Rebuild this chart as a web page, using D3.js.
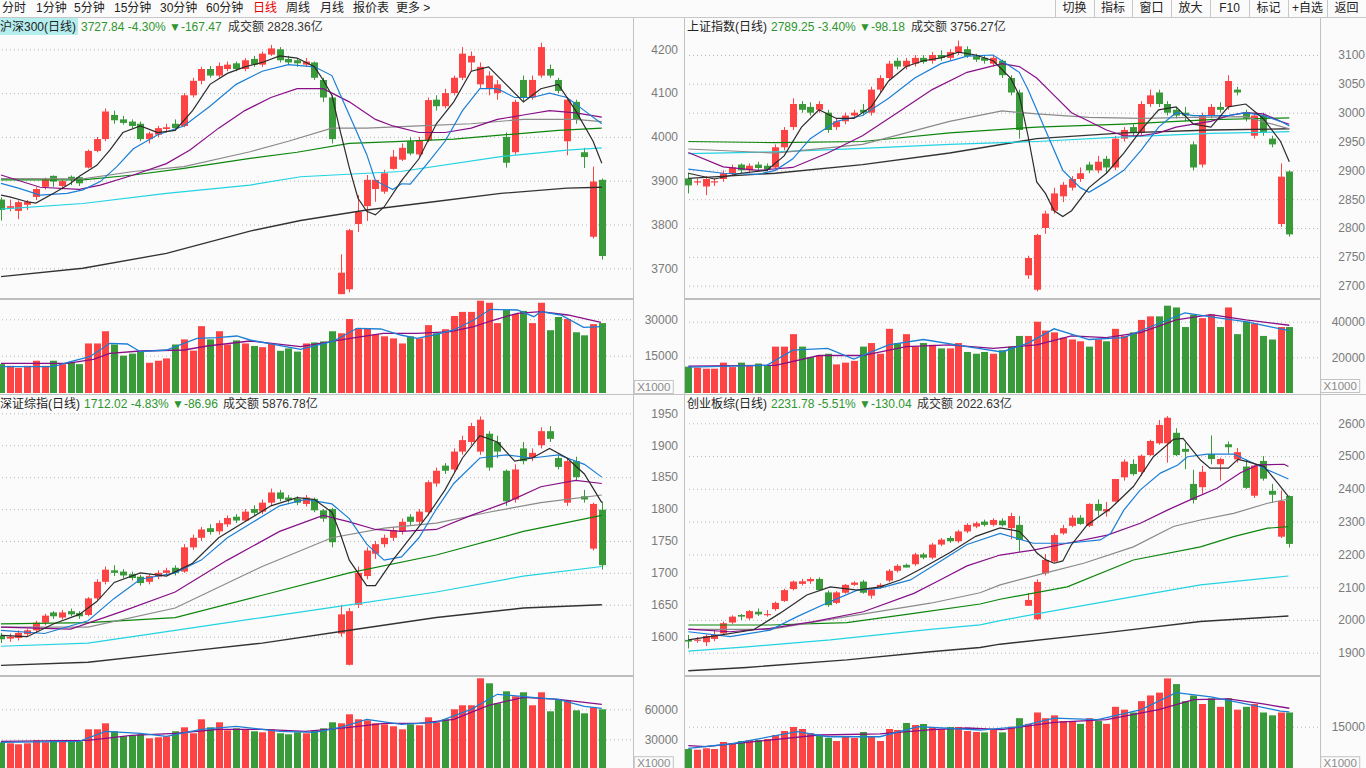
<!DOCTYPE html>
<html><head><meta charset="utf-8">
<script src="https://cdn.jsdelivr.net/npm/d3@7"></script>
<style>
html,body{margin:0;padding:0;background:#fbfbfb;overflow:hidden}
svg{display:block}
</style></head>
<body>
<svg id="c" width="1366" height="768"></svg>
<script>
// ---------------- DATA ----------------
const toolbarTabs = ["分时","1分钟","5分钟","15分钟","30分钟","60分钟","日线","周线","月线","报价表","更多 >"];
const toolbarButtons = ["切换","指标","窗口","放大","F10","标记","+自选","返回"];

// 沪深300
const hs300Open  = [3857,3838,3831,3845,3863,3886,3911,3888,3909,3908,3930,3968,3995,4050,4040,4035,4030,3995,4005,4018,4030,4025,4095,4128,4155,4140,4155,4168,4155,4178,4165,4188,4200,4178,4175,4165,4170,4130,4090,3641,3652,3801,3842,3881,3875,3927,3948,3990,3960,3992,4085,4070,4100,4135,4170,4120,4110,4100,4000,3965,4130,4090,4140,4155,4130,3990,4080,3965,3772,3902];
const hs300High  = [3862,3857,3855,3856,3885,3907,3912,3902,3912,3910,3971,4000,4065,4060,4048,4040,4035,4012,4025,4030,4040,4100,4135,4160,4162,4170,4172,4172,4180,4185,4195,4210,4205,4185,4180,4180,4172,4135,4095,3732,3790,3867,3913,3902,3925,3970,3985,4000,4000,4090,4095,4110,4140,4205,4195,4170,4150,4130,4010,4085,4140,4140,4215,4165,4135,4090,4085,3975,3932,3905];
const hs300Low   = [3809,3830,3812,3833,3856,3880,3886,3880,3890,3888,3928,3965,3990,4030,4028,4020,3990,3985,4000,4010,4015,4022,4090,4120,4135,4135,4150,4150,4150,4160,4160,4185,4170,4165,4160,4160,4130,4080,3985,3641,3645,3783,3808,3852,3870,3925,3945,3958,3955,3988,4060,4065,4095,4130,4150,4110,4095,4085,3930,3960,4080,4085,4135,4135,4100,3958,4030,3929,3768,3720];
const hs300Close = [3833,3842,3851,3852,3881,3903,3898,3899,3903,3894,3968,3995,4058,4038,4032,4025,3995,4008,4020,4022,4020,4095,4128,4155,4140,4162,4165,4155,4175,4165,4190,4202,4175,4170,4168,4172,4135,4090,3995,3690,3787,3829,3902,3902,3917,3955,3975,3962,3992,4084,4070,4100,4135,4190,4185,4160,4140,4120,3941,4080,4090,4130,4205,4140,4105,4085,4040,3954,3898,3728];
const hs300Vol   = [11500,10800,9960,10800,12900,10800,12900,11500,12480,11500,20030,20030,25070,19610,14990,15830,16670,12060,12900,13860,19610,21710,17090,27170,21710,25070,19610,21290,20030,19000,18500,20000,17000,18000,16680,20030,20450,20870,25070,24230,30110,26330,26040,23810,22970,22130,20030,22970,22130,27590,24230,25910,31370,33050,33050,37670,36830,28430,33890,32210,33470,28430,36830,25490,30950,30110,24650,23390,28010,28430];
const hs300MA5   = [[0,3867],[1,3863],[3,3852],[4,3849],[6,3871],[8,3894],[9,3910],[11,3935],[12.5,3970],[14,4010],[16,4025],[18,4010],[20,4015],[22,4060],[24,4120],[26,4145],[28,4160],[30,4170],[32,4185],[34,4180],[36,4160],[37,4130],[38,4095],[39,4010],[40,3930],[41,3860],[42,3830],[43,3822],[44,3840],[46,3900],[48,3950],[50,4030],[52,4080],[54,4150],[56,4160],[58,4120],[60,4080],[62,4110],[64,4120],[66,4060],[68,3990],[69,3940]];
const hs300MA10  = [[0,3894],[2,3883],[4.5,3867],[7.6,3871],[9.4,3879],[11.4,3898],[13.3,3932],[15.2,3973],[18,4005],[21,4025],[24,4070],[27,4120],[30,4150],[33,4165],[36,4160],[38,4140],[40,4050],[42,3960],[43,3900],[45,3880],[46,3893],[47,3892],[49,3940],[51,3990],[53,4060],[55,4110],[57,4110],[59,4090],[61,4090],[63,4100],[65,4090],[67,4060],[69,4030]];
const hs300MA20  = [[0,3913],[4.5,3885],[9,3880],[11.4,3890],[15.2,3913],[19,3939],[21.7,3970],[25,4020],[28,4060],[31,4090],[34,4110],[37,4110],[40,4080],[43,4040],[45,4025],[48,4010],[51,4010],[54,4020],[57,4040],[60,4050],[63,4060],[66,4055],[69,4045]];
const hs300MA30  = [[0,3905],[9.4,3904],[15.2,3921],[21,3932],[28.6,3966],[33,3990],[38,4020],[42,4020],[48,4025],[54,4030],[60,4040],[66,4040],[69,4035]];
const hs300MA60  = [[0,3902],[9.4,3902],[15.2,3913],[21,3928],[28.6,3951],[34,3965],[40,3985],[46,3990],[52,3995],[58,4005],[64,4015],[69,4020]];
const hs300MA120 = [[0,3835],[9.4,3848],[19,3871],[28.6,3890],[34.4,3909],[45.9,3921],[57.4,3955],[65,3970],[69,3975]];
const hs300MA250 = [[0,3681],[9.4,3700],[19,3734],[28.6,3785],[34.4,3809],[42,3833],[49.7,3852],[57.4,3871],[65,3883],[69,3885]];
const hs300VolMA5  = [[0,10440],[6,10440],[8,12500],[10.2,14570],[12.5,20100],[14.5,19810],[16,16630],[19,17330],[22.5,22160],[24.8,22410],[27.1,23110],[28.6,21460],[34.4,17620],[38.2,21000],[40.9,26290],[43.6,26000],[45.9,23520],[47.8,22160],[49.7,23520],[52,25590],[54.3,29710],[56.2,34130],[59.3,33840],[61.2,31080],[62,33140],[64.3,31780],[66.9,26700],[68.9,26950]];
const hs300VolMA10 = [[0,11840],[7.6,11840],[10.6,13500],[12.5,15970],[16,16920],[21,17330],[23.7,18980],[28.6,21050],[34.4,18700],[40.1,22160],[43.9,24230],[47.8,24230],[51.6,24890],[54.3,26950],[56.6,29710],[59.3,32480],[62,33140],[65.1,31780],[68.9,28770]];
const hs300PriceTicks = [3700,3800,3900,4000,4100,4200];
const hs300VolTicks = [15000,30000];

// 上证指数
const shOpen  = [2886,2880,2872,2879,2885,2895,2910,2900,2910,2908,2905,2940,2975,3015,3010,3005,3000,2975,2985,2995,3005,3000,3040,3060,3090,3080,3085,3095,3090,3100,3095,3105,3110,3098,3095,3085,3090,3060,3035,2718,2693,2800,2830,2855,2870,2885,2910,2900,2920,2905,2955,2975,2965,3015,3035,3015,3005,3000,2945,2910,2995,3010,3010,3040,3000,2960,2995,2955,2807,2898];
const shHigh  = [2896,2886,2890,2886,2900,2910,2912,2912,2915,2912,2945,2975,3025,3020,3018,3020,3005,2990,3000,3005,3015,3045,3065,3090,3095,3095,3100,3100,3105,3108,3110,3125,3115,3102,3100,3100,3092,3065,3040,2752,2790,2830,2870,2880,2890,2905,2915,2925,2925,2960,2975,2980,3020,3040,3040,3020,3010,3010,2950,3000,3015,3018,3065,3045,3005,3000,3000,2960,2912,2900];
const shLow   = [2860,2874,2857,2873,2880,2890,2895,2895,2900,2898,2903,2935,2970,3000,2995,3000,2965,2970,2980,2990,2995,2995,3035,3055,3075,3075,3080,3085,3085,3090,3090,3100,3095,3088,3085,3080,3060,3030,2955,2712,2690,2790,2825,2845,2865,2880,2895,2895,2895,2900,2950,2960,2960,3010,3010,2995,2990,2985,2900,2905,2990,3000,3005,3030,2985,2955,2960,2940,2802,2785];
const shClose = [2874,2881,2885,2881,2895,2905,2900,2908,2904,2902,2940,2970,3015,3005,3000,3015,2970,2985,2995,3000,3000,3040,3060,3085,3080,3090,3095,3088,3100,3095,3105,3115,3098,3092,3090,3095,3065,3035,2970,2748,2788,2825,2860,2875,2885,2895,2900,2915,2905,2955,2970,2965,3015,3030,3015,3000,2995,2995,2905,2995,3010,3005,3055,3035,2990,2995,2965,2945,2889,2789];
const shVol   = [14720,14160,13600,13600,17000,14500,17000,15500,16500,15500,26000,26000,33000,26000,20000,21000,22000,16000,17000,18000,26000,28000,22000,36000,28000,33000,26000,28000,27000,25000,25000,28000,23000,22000,23000,22000,24000,26000,32000,32000,40000,35000,34000,31000,30000,29000,26000,30000,29000,36000,32000,34000,41000,43000,43000,49000,48000,37000,44000,42000,44000,37000,48000,33000,40000,39000,32000,30000,37000,37000];
const shMA5   = [[0,2895],[3,2885],[6,2895],[9,2900],[11,2925],[13,2975],[15,3005],[17,2990],[19,2990],[21,3010],[23,3055],[25,3080],[27,3090],[29,3095],[31,3105],[33,3100],[35,3090],[37,3060],[38,3030],[39,2960],[40,2880],[41,2860],[42,2830],[43,2820],[44,2830],[46,2870],[48,2895],[50,2930],[52,2970],[54,3005],[56,3010],[58,2980],[60,2975],[62,3010],[64,3015],[66,2990],[68,2950],[69,2915]];
const shMA10  = [[0,2902],[4,2895],[8,2893],[10,2900],[12,2920],[14,2955],[17,2985],[20,2995],[23,3025],[26,3060],[29,3085],[32,3098],[35,3100],[38,3070],[39,3040],[41,2970],[43,2900],[45,2870],[46,2862],[48,2880],[50,2900],[52,2935],[54,2975],[56,3000],[58,2995],[60,2995],[62,2995],[64,3000],[66,2995],[68,2985],[69,2977]];
const shMA20  = [[0,2931],[4,2906],[8,2900],[12,2905],[16,2930],[20,2960],[24,3000],[28,3040],[32,3070],[36,3085],[38,3080],[40,3060],[42,3030],[44,3000],[46,2985],[48,2970],[50,2960],[52,2960],[54,2965],[56,2975],[58,2980],[60,2985],[62,2995],[64,3000],[66,2998],[68,2985],[69,2980]];
const shMA30  = [[0,2937],[10,2930],[20,2945],[30,2985],[36,3003],[40,2998],[46,2992],[52,2990],[58,2992],[64,2993],[69,2972]];
const shMA60  = [[0,2950],[10,2948],[20,2950],[30,2965],[40,2975],[50,2980],[60,2988],[69,2991]];
const shMA120 = [[0,2929],[10,2932],[20,2938],[30,2945],[40,2950],[50,2958],[60,2964],[69,2967]];
const shMA250 = [[0,2886],[10,2895],[20,2910],[30,2930],[40,2955],[50,2965],[60,2970],[69,2972]];
const shVolMA5  = [[0,14500],[9,15500],[12,24000],[16,25000],[19,19000],[23,27000],[27,30000],[32,26000],[36,23000],[39,28000],[42,36000],[46,30000],[50,31000],[54,39000],[57,45000],[61,42000],[64,40000],[67,37000],[69,35000]];
const shVolMA10 = [[0,15000],[10,15500],[15,21000],[20,21000],[25,26000],[30,27000],[35,25000],[40,27000],[44,32000],[48,31000],[52,34000],[56,41000],[60,44000],[64,41000],[69,38000]];
const shPriceTicks = [2700,2750,2800,2850,2900,2950,3000,3050,3100];
const shVolTicks = [20000,40000];

// 深证综指
const szOpen  = [1602,1597,1598,1604,1610,1622,1638,1630,1640,1637,1634,1660,1686,1704,1702,1698,1694,1686,1694,1700,1708,1702,1740,1755,1770,1765,1776,1788,1782,1800,1796,1810,1826,1818,1816,1808,1816,1798,1800,1605,1556,1650,1695,1730,1745,1755,1765,1788,1780,1795,1840,1868,1862,1890,1905,1890,1918,1905,1860,1815,1895,1880,1900,1922,1880,1810,1875,1820,1738,1799];
const szHigh  = [1606,1605,1610,1612,1625,1636,1640,1642,1644,1640,1662,1690,1710,1712,1706,1702,1697,1698,1704,1708,1712,1745,1760,1772,1776,1782,1790,1792,1800,1806,1815,1832,1830,1822,1820,1822,1818,1800,1802,1650,1645,1710,1740,1750,1760,1772,1785,1792,1800,1845,1865,1872,1895,1915,1935,1945,1922,1915,1862,1870,1905,1895,1928,1930,1885,1880,1882,1830,1810,1812];
const szLow   = [1590,1592,1594,1600,1606,1618,1628,1627,1632,1628,1632,1656,1682,1695,1692,1688,1680,1682,1690,1696,1696,1700,1736,1750,1760,1760,1772,1778,1780,1790,1792,1806,1812,1810,1806,1804,1795,1780,1740,1600,1555,1645,1690,1722,1740,1750,1760,1775,1776,1790,1835,1855,1858,1885,1900,1885,1860,1880,1805,1810,1870,1875,1895,1905,1862,1805,1845,1810,1735,1705];
const szClose = [1596,1600,1606,1610,1622,1633,1632,1638,1635,1632,1660,1686,1705,1700,1696,1692,1684,1695,1700,1704,1700,1740,1755,1768,1764,1778,1786,1782,1796,1794,1810,1826,1816,1814,1810,1818,1798,1785,1748,1635,1640,1700,1735,1745,1755,1767,1780,1780,1796,1842,1860,1860,1890,1908,1930,1940,1865,1890,1812,1862,1875,1888,1922,1910,1866,1875,1850,1815,1808,1712];
const szVol   = [27000,26000,25000,26000,29000,27000,29000,28000,29000,28000,40000,40000,46000,38000,33000,34000,35000,31000,32000,33000,38000,42000,36000,50000,42000,47000,39000,41000,40000,38000,37000,40000,36000,35000,37000,36000,39000,41000,47000,46000,55000,50000,49000,46000,45000,43000,40000,45000,44000,52000,47000,50000,60000,64000,64000,91000,86000,66000,78000,73000,77000,64000,77000,58000,70000,69000,59000,56000,62000,60000];
const szMA5   = [[0,1602],[3,1600],[6,1620],[9,1635],[11,1655],[13,1685],[16,1700],[19,1695],[22,1715],[25,1755],[28,1780],[31,1805],[34,1818],[36,1815],[38,1795],[39,1760],[40,1720],[41,1700],[42,1680],[43,1680],[45,1720],[47,1755],[49,1790],[51,1830],[53,1880],[55,1915],[57,1905],[59,1875],[61,1880],[63,1895],[65,1880],[67,1855],[69,1810]];
const szMA10  = [[0,1610],[5,1605],[10,1625],[13,1660],[16,1690],[20,1700],[23,1720],[26,1755],[29,1780],[32,1805],[35,1815],[38,1808],[40,1785],[42,1745],[44,1720],[46,1725],[48,1755],[50,1800],[52,1840],[55,1880],[58,1885],[61,1880],[64,1885],[67,1870],[69,1850]];
const szMA20  = [[0,1615],[8,1612],[14,1640],[20,1670],[26,1720],[32,1765],[37,1790],[40,1780],[43,1768],[46,1765],[50,1768],[54,1790],[58,1810],[62,1835],[66,1845],[69,1840]];
const szMA30  = [[0,1615],[10,1615],[20,1645],[30,1710],[38,1755],[44,1770],[50,1778],[56,1795],[62,1810],[69,1822]];
const szMA60  = [[0,1620],[10,1622],[20,1630],[30,1665],[40,1700],[50,1728],[60,1765],[69,1790]];
const szMA120 = [[0,1585],[10,1590],[20,1610],[30,1630],[40,1650],[50,1670],[60,1695],[69,1710]];
const szMA250 = [[0,1555],[10,1560],[20,1575],[30,1590],[40,1610],[50,1630],[60,1645],[69,1650]];
const szVolMA5  = [[0,27000],[9,28000],[12,38000],[16,36000],[19,33000],[23,40000],[27,43000],[32,38000],[36,37000],[39,42000],[42,50000],[46,45000],[50,47000],[54,60000],[57,75000],[61,72000],[64,70000],[67,63000],[69,61000]];
const szVolMA10 = [[0,28000],[10,29000],[15,34000],[20,36000],[25,40000],[30,40000],[35,38000],[40,42000],[44,46000],[48,46000],[52,50000],[56,64000],[60,72000],[64,70000],[69,65000]];
const szPriceTicks = [1600,1650,1700,1750,1800,1850,1900,1950];
const szVolTicks = [30000,60000];

// 创业板综
const cybOpen  = [1939,1937,1932,1942,1959,1992,2015,2005,2025,2016,2033,2058,2094,2110,2118,2125,2084,2052,2083,2107,2117,2074,2100,2120,2150,2168,2170,2200,2190,2230,2250,2240,2270,2285,2300,2290,2303,2280,2290,2043,2002,2142,2178,2264,2287,2312,2287,2354,2331,2361,2435,2476,2452,2503,2539,2539,2571,2522,2415,2405,2506,2475,2536,2490,2468,2379,2485,2394,2254,2378];
const cybHigh  = [1954,1948,1956,1970,1995,2014,2018,2030,2035,2030,2056,2095,2120,2125,2130,2130,2090,2088,2110,2118,2122,2098,2112,2155,2170,2172,2205,2205,2235,2250,2256,2275,2295,2300,2306,2310,2310,2327,2317,2082,2124,2201,2264,2290,2320,2320,2356,2368,2360,2430,2490,2490,2505,2550,2610,2622,2585,2540,2458,2470,2563,2495,2545,2525,2490,2473,2500,2415,2395,2380];
const cybLow   = [1913,1930,1920,1935,1955,1988,2000,2000,2012,2010,2028,2055,2090,2105,2110,2088,2040,2048,2080,2104,2080,2065,2095,2115,2145,2160,2165,2185,2185,2225,2235,2235,2265,2280,2285,2285,2285,2246,2208,2043,2000,2136,2175,2260,2283,2290,2283,2318,2315,2361,2425,2440,2440,2500,2535,2480,2500,2460,2355,2385,2475,2425,2508,2480,2400,2372,2425,2357,2250,2221];
const cybClose = [1934,1940,1951,1954,1990,2010,2010,2027,2017,2018,2052,2091,2117,2118,2125,2091,2045,2084,2107,2114,2083,2093,2107,2150,2165,2160,2200,2190,2230,2245,2240,2270,2290,2295,2290,2305,2289,2317,2244,2061,2116,2183,2259,2280,2312,2293,2354,2333,2338,2430,2483,2445,2501,2546,2595,2617,2503,2513,2366,2452,2491,2491,2527,2512,2403,2471,2431,2382,2363,2232];
const cybVol   = [7140,6900,7390,7140,9610,9260,9960,10310,10310,10670,12070,13480,14890,14190,12780,12070,11020,9960,11370,11020,13130,11370,9960,14190,13830,16300,15590,15950,14890,14190,14890,14890,13480,13130,13000,14000,13000,15000,18000,16000,20000,18000,19000,17000,17000,16000,18000,17000,16000,22000,21000,20000,24000,26000,27000,32000,30000,24000,26000,23000,25000,22000,25000,21000,22000,23000,20000,19000,20000,20000];
const cybMA5   = [[0,1939],[4,1955],[7.5,1970],[10.5,2020],[13.6,2076],[16.3,2101],[19.4,2091],[22,2101],[24.3,2122],[27,2160],[30,2205],[33,2255],[35.8,2281],[38,2270],[39,2243],[40,2205],[41,2184],[42,2173],[43,2180],[44,2230],[45.8,2290],[48.5,2341],[51.1,2407],[53.4,2498],[55.7,2551],[56.8,2554],[58.8,2488],[59.9,2463],[62,2463],[63.1,2490],[64.2,2483],[66.1,2468],[67.7,2417],[68.9,2376]];
const cybMA10  = [[0,1964],[4.8,1949],[9.4,1969],[12.5,2010],[16.3,2056],[19.4,2091],[22,2097],[25.5,2122],[29,2180],[32,2230],[35.8,2264],[39.6,2234],[43.5,2234],[47.3,2244],[48.5,2264],[50,2335],[51.9,2397],[54.2,2448],[56.2,2473],[57.3,2498],[59.6,2506],[62.6,2506],[64.9,2478],[66.5,2458],[68.9,2430]];
const cybMA20  = [[0,1972],[4.8,1964],[9.4,1974],[14.4,1995],[20.1,2025],[25.9,2081],[28.9,2122],[32,2165],[35.8,2198],[39.6,2213],[43.5,2234],[48.1,2259],[51.9,2295],[55,2335],[58,2371],[60.7,2402],[63.4,2449],[65.4,2473],[68.4,2475],[68.9,2468]];
const cybMA30  = [[0,1971],[9.4,1971],[18.2,2010],[27.8,2051],[33.5,2083],[35.8,2107],[40.8,2142],[45.4,2173],[51.1,2223],[55.7,2285],[58.8,2305],[62.6,2325],[66.5,2356],[68.9,2369]];
const cybMA60  = [[0,1984.5],[9.4,1984.5],[18.2,1991.5],[25.9,2020],[33.5,2048.6],[35.8,2063],[43.5,2101],[51.1,2183],[58.8,2223],[62.6,2254],[66.5,2280],[68.9,2284.5]];
const cybMA120 = [[0,1905],[6.7,1918],[16.3,1939],[27.8,1971],[33.5,1985],[35.8,1998],[43.5,2035],[51.1,2071],[58.8,2107],[68.9,2134]];
const cybMA250 = [[0,1845],[6.7,1855],[18.2,1878],[27.8,1903],[33.5,1916],[35.8,1926],[47.3,1959],[58.8,1995],[68.9,2012]];
const cybVolMA5  = [[0,7390],[5,9000],[12.5,13230],[16,11470],[22,11470],[26.4,15000],[33.5,13830],[38,15000],[42,18000],[47,17500],[52,21000],[56,27000],[60,25500],[64,23000],[68,20500],[69,20200]];
const cybVolMA10 = [[0,8310],[2,7960],[15,12070],[22,12500],[28,14000],[32,14540],[36,14000],[42,16500],[48,17500],[54,21000],[58,24500],[62,24800],[66,23000],[69,21500]];
const cybPriceTicks = [1900,2000,2100,2200,2300,2400,2500,2600];
const cybVolTicks = [15000];

// ---------------- STYLE ----------------
const FONT = '"Liberation Sans","Noto Sans CJK SC",sans-serif';
const RED = "#fd4343", GREEN = "#399a39";
const UPTXT = "#2f962f";
const MA_COL = ["#2b2b2b","#1b7fd6","#880f88","#8a8a8a","#0d860d","#22d3e2","#333333"];
const VOLMA_COL = ["#1b7fd6","#880f88"];

const svg = d3.select("#c");
svg.append("rect").attr("width",1366).attr("height",768).attr("fill","#fbfbfb");

// toolbar
const tabX = [2,36,74,114,160,206,253,286,320,353,396];
svg.append("g").selectAll("text").data(toolbarTabs).join("text")
  .attr("x",(d,i)=>tabX[i]).attr("y",12)
  .attr("font-family",FONT).attr("font-size",12)
  .attr("fill",d=>d==="日线"?"#e60000":"#222").text(d=>d);
const btnEdges = [1055,1094,1132,1171,1210,1249,1288,1327,1366];
const tb = svg.append("g");
tb.selectAll("line").data(btnEdges.slice(0,8)).join("line")
  .attr("x1",d=>d+0.5).attr("x2",d=>d+0.5).attr("y1",0).attr("y2",17).attr("stroke","#c8c8c8");
tb.selectAll("text").data(toolbarButtons).join("text")
  .attr("x",(d,i)=>(btnEdges[i]+btnEdges[i+1])/2).attr("y",12).attr("text-anchor","middle")
  .attr("font-family",FONT).attr("font-size",12).attr("fill","#222").text(d=>d);
svg.append("line").attr("x1",0).attr("x2",1366).attr("y1",17.5).attr("y2",17.5).attr("stroke","#c8c8c8");

// ---------------- PANELS ----------------
const panels = [
 {title:"沪深300(日线)", quote:"3727.84 -4.30% ▼-167.47", amount:"成交额 2828.36亿", sel:true,
  L:0, R:633, axR:678, hdrY:31, qX:81, aX:228, pTop:35, pBot:298, vTop:300, vBot:393,
  xr:[1,601.8], pd:[3700,4200], pr:[268.3,49.3], vr:[392,319.3], vdMax:30000,
  o:hs300Open,h:hs300High,l:hs300Low,c:hs300Close,v:hs300Vol,
  mas:[hs300MA5,hs300MA10,hs300MA20,hs300MA30,hs300MA60,hs300MA120,hs300MA250],
  vmas:[hs300VolMA5,hs300VolMA10], pt:hs300PriceTicks, vt:hs300VolTicks, x1000:[634.3,380.5]},
 {title:"上证指数(日线)", quote:"2789.25 -3.40% ▼-98.18", amount:"成交额 3756.27亿",
  L:685, R:1320, axR:1365, hdrY:31, qX:771, aX:911, pTop:35, pBot:298, vTop:300, vBot:393,
  xr:[688.3,1289.3], pd:[2700,3100], pr:[285.7,55], vr:[392.9,321.7], vdMax:40000,
  o:shOpen,h:shHigh,l:shLow,c:shClose,v:shVol,
  mas:[shMA5,shMA10,shMA20,shMA30,shMA60,shMA120,shMA250],
  vmas:[shVolMA5,shVolMA10], pt:shPriceTicks, vt:shVolTicks, x1000:[1320.7,379.5]},
 {title:"深证综指(日线)", quote:"1712.02 -4.83% ▼-86.96", amount:"成交额 5876.78亿",
  L:0, R:633, axR:678, hdrY:408, qX:84, aX:223, pTop:412, pBot:675, vTop:677, vBot:768,
  xr:[1,601.8], pd:[1600,1950], pr:[636.7,413.3], vr:[769.3,709.3], vdMax:60000,
  o:szOpen,h:szHigh,l:szLow,c:szClose,v:szVol,
  mas:[szMA5,szMA10,szMA20,szMA30,szMA60,szMA120,szMA250],
  vmas:[szVolMA5,szVolMA10], pt:szPriceTicks, vt:szVolTicks, x1000:[634.3,756.7]},
 {title:"创业板综(日线)", quote:"2231.78 -5.51% ▼-130.04", amount:"成交额 2022.63亿",
  L:685, R:1320, axR:1365, hdrY:408, qX:771, aX:917, pTop:412, pBot:675, vTop:677, vBot:768,
  xr:[688.3,1289.3], pd:[1900,2600], pr:[652.7,423.3], vr:[769.3,726.7], vdMax:15000,
  o:cybOpen,h:cybHigh,l:cybLow,c:cybClose,v:cybVol,
  mas:[cybMA5,cybMA10,cybMA20,cybMA30,cybMA60,cybMA120,cybMA250],
  vmas:[cybVolMA5,cybVolMA10], pt:cybPriceTicks, vt:cybVolTicks, x1000:[1320.7,756.7]}
];

panels.forEach((p,pi)=>{
  const g = svg.append("g");
  const n = p.c.length;
  const x = d3.scaleLinear().domain([0,n-1]).range(p.xr);
  const y = d3.scaleLinear().domain(p.pd).range(p.pr);
  const vy = d3.scaleLinear().domain([0,p.vdMax]).range([p.vr[0],p.vr[1]]);

  const cpId="cp"+pi, cvId="cv"+pi;
  const defs = svg.append("defs");
  defs.append("clipPath").attr("id",cpId).append("rect")
    .attr("x",p.L).attr("y",p.pTop).attr("width",p.R-p.L).attr("height",p.pBot-p.pTop);
  defs.append("clipPath").attr("id",cvId).append("rect")
    .attr("x",p.L).attr("y",p.vTop).attr("width",p.R-p.L).attr("height",p.vBot-p.vTop);

  const gridAxis = d3.axisLeft(y).tickValues(p.pt).tickSize(p.R-p.L-4).tickFormat("");
  const gg = g.append("g").attr("transform",`translate(${p.R-2},0)`).call(gridAxis);
  gg.select(".domain").remove();
  gg.selectAll(".tick line").attr("stroke","#b8b8b8").attr("stroke-dasharray","1,3");
  const labAxis = d3.axisLeft(y).tickValues(p.pt).tickSize(0).tickPadding(0).tickFormat(d3.format("d"));
  const la = g.append("g").attr("transform",`translate(${p.axR},0)`).call(labAxis);
  la.select(".domain").remove();
  la.selectAll("text").attr("font-family",FONT).attr("font-size",12).attr("fill","#7a7a7a");

  const vGrid = d3.axisLeft(vy).tickValues(p.vt).tickSize(p.R-p.L-4).tickFormat("");
  const vg = g.append("g").attr("transform",`translate(${p.R-2},0)`).call(vGrid);
  vg.select(".domain").remove();
  vg.selectAll(".tick line").attr("stroke","#b8b8b8").attr("stroke-dasharray","1,3");
  const vLab = d3.axisLeft(vy).tickValues(p.vt).tickSize(0).tickPadding(0).tickFormat(d3.format("d"));
  const vl = g.append("g").attr("transform",`translate(${p.axR},0)`).call(vLab);
  vl.select(".domain").remove();
  vl.selectAll("text").attr("font-family",FONT).attr("font-size",12).attr("fill","#7a7a7a");

  g.append("rect").attr("x",p.x1000[0]).attr("y",p.x1000[1]).attr("width",39).attr("height",13)
    .attr("fill","none").attr("stroke","#c4c4c4");
  g.append("text").attr("x",p.x1000[0]+19.5).attr("y",p.x1000[1]+10.5).attr("text-anchor","middle")
    .attr("font-family",FONT).attr("font-size",11.5).attr("fill","#8a8a8a").text("X1000");

  const cg = g.append("g").attr("clip-path",`url(#${cpId})`);
  const idx = d3.range(n);
  const up = i => p.c[i] >= p.o[i];
  cg.selectAll("line.w").data(idx).join("line").attr("class","w")
    .attr("x1",i=>Math.round(x(i))+0.5).attr("x2",i=>Math.round(x(i))+0.5)
    .attr("y1",i=>y(p.h[i])).attr("y2",i=>y(p.l[i]))
    .attr("stroke",i=>up(i)?RED:GREEN).attr("stroke-width",1);
  cg.selectAll("rect.b").data(idx).join("rect").attr("class","b")
    .attr("x",i=>Math.round(x(i))-3).attr("width",7)
    .attr("y",i=>y(Math.max(p.o[i],p.c[i])))
    .attr("height",i=>Math.max(1.2,Math.abs(y(p.o[i])-y(p.c[i]))))
    .attr("fill",i=>up(i)?RED:GREEN);

  const line = d3.line().x(d=>x(d[0])).y(d=>y(d[1]));
  cg.selectAll("path.ma").data(p.mas.map((m,k)=>({m,k})).reverse()).join("path").attr("class","ma")
    .attr("d",d=>line(d.m)).attr("fill","none")
    .attr("stroke",d=>MA_COL[d.k]).attr("stroke-width",d=>d.k===6?1.4:1.2);

  const vgB = g.append("g").attr("clip-path",`url(#${cvId})`);
  vgB.selectAll("rect").data(idx).join("rect")
    .attr("x",i=>Math.round(x(i))-3).attr("width",7)
    .attr("y",i=>vy(p.v[i])).attr("height",i=>p.vr[0]-vy(p.v[i])+2)
    .attr("fill",i=>up(i)?RED:GREEN);
  const vline = d3.line().x(d=>x(d[0])).y(d=>vy(d[1]));
  vgB.selectAll("path").data(p.vmas.map((m,k)=>({m,k})).reverse()).join("path")
    .attr("d",d=>vline(d.m)).attr("fill","none").attr("stroke",d=>VOLMA_COL[d.k]).attr("stroke-width",1.3);

  const hx = p.L===0?0:687;
  if(p.sel){
    g.append("rect").attr("x",0).attr("y",18).attr("width",78).attr("height",17).attr("fill","#b4eeee");
  }
  g.append("text").attr("x",hx).attr("y",p.hdrY).attr("font-family",FONT).attr("font-size",12)
    .attr("fill","#222").text(p.title);
  g.append("text").attr("x",p.qX).attr("y",p.hdrY).attr("font-family",FONT).attr("font-size",12)
    .attr("fill",UPTXT).text(p.quote);
  g.append("text").attr("x",p.aX).attr("y",p.hdrY).attr("font-family",FONT).attr("font-size",12)
    .attr("fill","#333").text(p.amount);

  g.append("line").attr("x1",p.L).attr("x2",p.R).attr("y1",p.pBot+1).attr("y2",p.pBot+1)
    .attr("stroke","#bdbdbd").attr("stroke-width",2);
});

const fr = svg.append("g").attr("stroke","#c2c2c2");
fr.append("line").attr("x1",633.5).attr("x2",633.5).attr("y1",18).attr("y2",768);
fr.append("line").attr("x1",684.5).attr("x2",684.5).attr("y1",18).attr("y2",768);
fr.append("line").attr("x1",1320.5).attr("x2",1320.5).attr("y1",18).attr("y2",768);
fr.append("line").attr("x1",0).attr("x2",1366).attr("y1",394.5).attr("y2",394.5);
</script>
</body></html>
